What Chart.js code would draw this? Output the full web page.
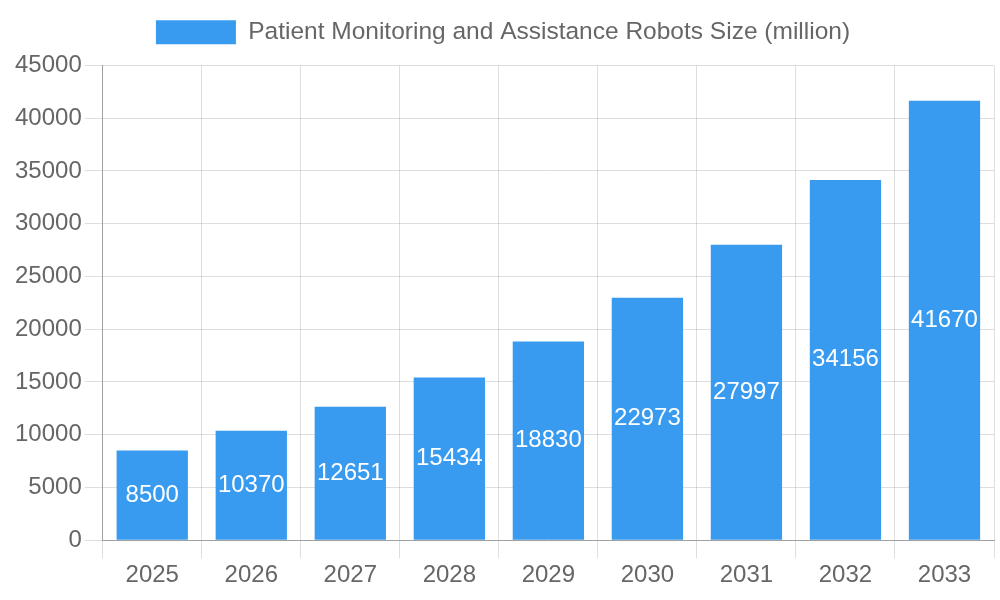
<!DOCTYPE html>
<html>
<head>
<meta charset="utf-8">
<script src="https://cdn.jsdelivr.net/npm/chart.js@4/dist/chart.umd.min.js"></script>
<style>
  html, body { margin: 0; padding: 0; background: #fff; }
  #wrap { width: 1000px; height: 600px; }
</style>
</head>
<body>
<div id="wrap"><canvas id="robotsChart"></canvas></div>
<script>
'use strict';

// ── Data ──────────────────────────────────────────────────────
const years       = ['2025', '2026', '2027', '2028', '2029', '2030', '2031', '2032', '2033'];
const robotsSize  = [8500, 10370, 12651, 15434, 18830, 22973, 27997, 34156, 41670];
const seriesLabel = 'Patient Monitoring and Assistance Robots Size (million)';

const barColor  = 'rgb(56,155,240)';
const textColor = '#666';
const gridColor = 'rgba(0,0,0,0.13)';

Chart.defaults.font.family = '"Liberation Sans", Arial, sans-serif';
Chart.defaults.font.size   = 24;
Chart.defaults.color       = textColor;

// values drawn in the middle of each bar
const barValueLabels = {
    id: 'barValueLabels',
    afterDatasetsDraw(chart) {
        const ctx  = chart.ctx;
        const meta = chart.getDatasetMeta(0);
        ctx.save();
        ctx.fillStyle    = '#fff';
        ctx.font         = '24px "Liberation Sans", Arial, sans-serif';
        ctx.textAlign    = 'center';
        ctx.textBaseline = 'middle';
        meta.data.forEach((bar, i) => {
            const p = bar.getProps(['x', 'y', 'base'], true);
            ctx.fillText(String(robotsSize[i]), p.x, (p.y + p.base) / 2);
        });
        ctx.restore();
    }
};

// a bit more room under the legend
const legendGap = {
    id: 'legendGap',
    beforeInit(chart) {
        const fit = chart.legend.fit;
        chart.legend.fit = function () { fit.bind(chart.legend)(); this.height += 11; };
    }
};

new Chart(document.getElementById('robotsChart').getContext('2d'), {
    type: 'bar',
    data: {
        labels: years,
        datasets: [{ label: seriesLabel, data: robotsSize, backgroundColor: barColor, borderWidth: 0 }]
    },
    options: {
        responsive: true, maintainAspectRatio: false, animation: false,
        layout: { padding: { top: 10, right: 6, bottom: 7, left: 12 } },
        scales: {
            x: {
                grid:   { color: gridColor, tickLength: 18 },
                border: { color: '#a0a0a0' },
                ticks:  { color: textColor, font: { size: 24 } }
            },
            y: {
                min: 0, max: 45000,
                grid:   { color: gridColor, tickLength: 18 },
                border: { color: '#a0a0a0' },
                ticks:  { stepSize: 5000, color: textColor, font: { size: 24 }, callback: v => String(v) }
            }
        },
        plugins: {
            legend: {
                position: 'top',
                labels: { boxWidth: 80, boxHeight: 24, color: textColor, font: { size: 24.5 } }
            },
            tooltip: { enabled: false }
        }
    },
    plugins: [barValueLabels, legendGap]
});
</script>
</body>
</html>
